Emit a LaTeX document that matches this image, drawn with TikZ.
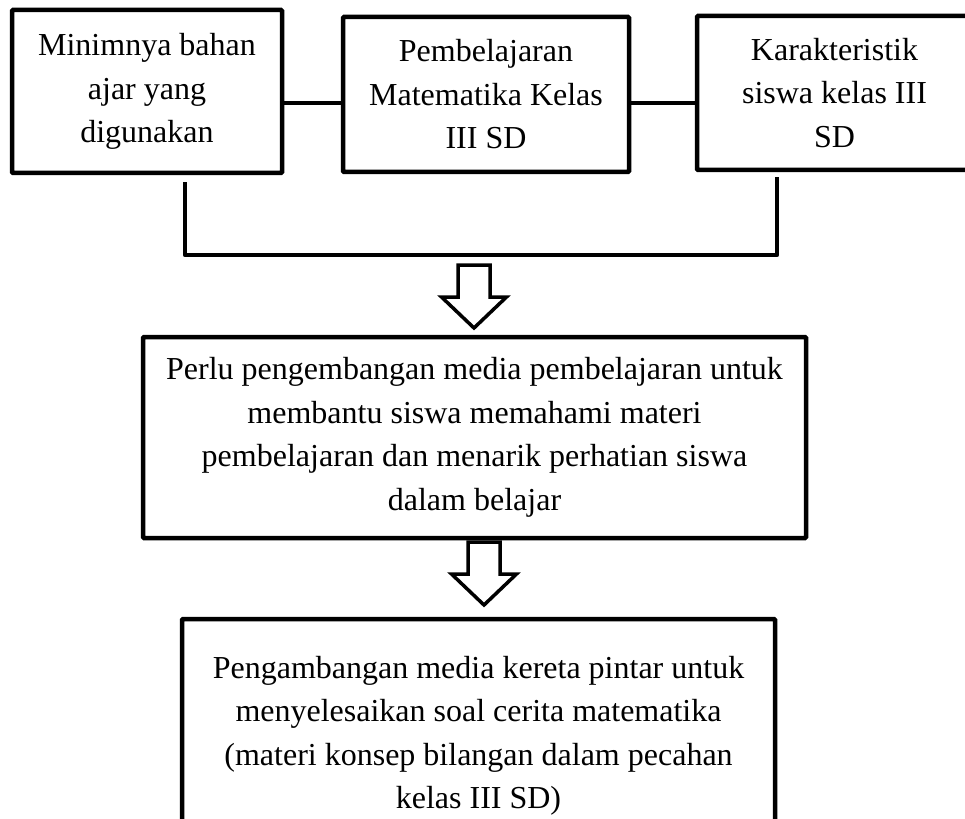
\documentclass[tikz,border=0pt]{standalone}
\usepackage{fontspec}
\setmainfont{Liberation Serif}

\begin{document}
\begin{tikzpicture}[
    x=1pt, y=-1pt,
    box/.style={
        rectangle,
        draw=black,
        line width=4.5pt,
        rounded corners=1pt,
        fill=white,
        align=center,
        inner sep=0pt,
        font=\fontsize{32}{43.5}\selectfont
    },
    link/.style={
        line width=4.5pt,
        line join=round
    },
    hollow/.pic={
        \draw[line width=3.5pt, fill=white, line join=miter]
            (-16,0) -- (-16,32) -- (-32.5,32) -- (0,63)
            -- (32.5,32) -- (16,32) -- (16,0) -- cycle;
    }
]
\useasboundingbox (0,0) rectangle (965,818);

\node[box, minimum width=270, minimum height=163] (bahan) at (147,91.5)
    {Minimnya bahan\\ajar yang\\digunakan};
\node[box, minimum width=286, minimum height=155] (mtk) at (486,94.5)
    {Pembelajaran\\Matematika Kelas\\III SD};
\node[box, minimum width=275, minimum height=154] (siswa) at (834.5,93)
    {Karakteristik\\siswa kelas III\\SD};

\node[box, minimum width=663, minimum height=201] (perlu) at (474.5,437.5)
    {Perlu pengembangan media pembelajaran untuk\\membantu siswa memahami materi\\pembelajaran dan menarik perhatian siswa\\dalam belajar};
\node[box, minimum width=593, minimum height=234] (kereta) at (478.5,736)
    {Pengambangan media kereta pintar untuk\\menyelesaikan soal cerita matematika\\(materi konsep bilangan dalam pecahan\\kelas III SD)};

\coordinate (bl) at (185,255);
\coordinate (br) at (777,255);

\draw[link] (bahan.east |- 0,103) -- (mtk.west |- 0,103);
\draw[link] (mtk.east |- 0,103) -- (siswa.west |- 0,103);
\draw[link, shorten <=7pt, shorten >=5pt]
    (bahan.south -| bl) -- (bl) -- (br) -- (siswa.south -| br);

\pic at (474,265) {hollow};
\pic at (484,542) {hollow};

\end{tikzpicture}
\end{document}
